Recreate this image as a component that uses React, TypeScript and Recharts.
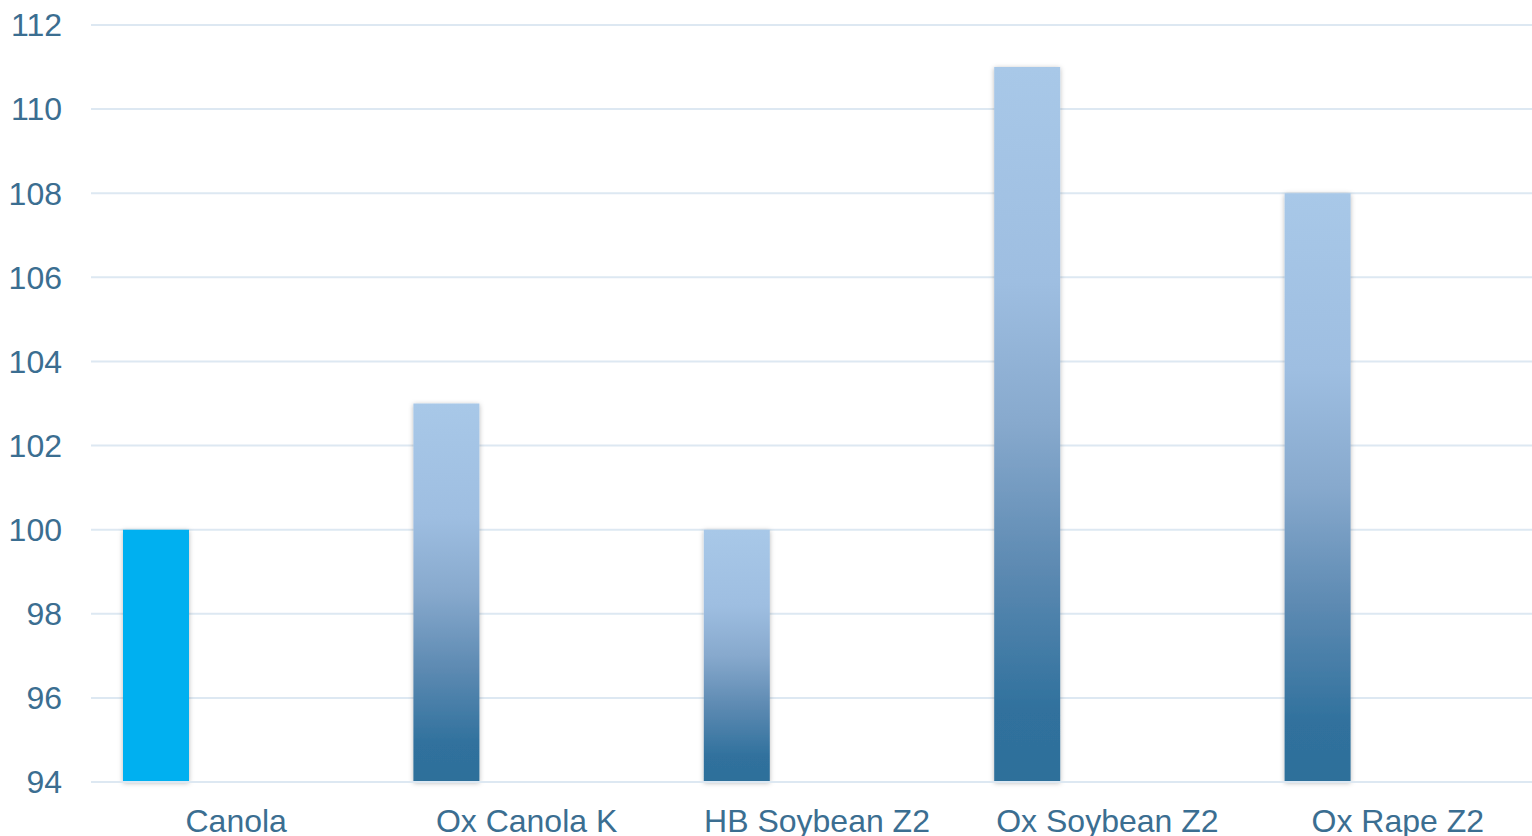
import React from "react";
import { BarChart, Bar, XAxis, YAxis, CartesianGrid, Cell } from "recharts";

const categories = ["Canola", "Ox Canola K", "HB Soybean Z2", "Ox Soybean Z2", "Ox Rape Z2"];
const values = [100, 103, 100, 111, 108];
const yTicks = [94, 96, 98, 100, 102, 104, 106, 108, 110, 112];

const data = categories.map((name, i) => ({ name, value: values[i], spacer: null }));

const textColor = "#3B6E91";
const font = "Liberation Sans, Arial, sans-serif";

export default function App() {
  return (
    <div style={{ position: "absolute", left: 0, top: 0, width: 1532, height: 836, overflow: "hidden", background: "#fff" }}>
      <BarChart
        width={1543}
        height={836}
        data={data}
        margin={{ top: 25, right: 0, bottom: 0, left: 0 }}
        barGap={95}
        barSize={66}
      >
        <defs>
          <linearGradient id="barFade" x1="0" y1="0" x2="0" y2="1">
            <stop offset="0" stopColor="#A8C8E8" />
            <stop offset="0.3" stopColor="#9EBEE1" />
            <stop offset="0.5" stopColor="#87A9CD" />
            <stop offset="0.7" stopColor="#5D8AB2" />
            <stop offset="0.9" stopColor="#30719D" />
            <stop offset="1" stopColor="#2E6F9A" />
          </linearGradient>
          <filter id="barShadow" x="-30%" y="-10%" width="160%" height="120%">
            <feDropShadow dx="0" dy="1" stdDeviation="2.5" floodColor="#000" floodOpacity="0.28" />
          </filter>
        </defs>
        <CartesianGrid vertical={false} stroke="#DDE8F2" strokeWidth={2} />
        <XAxis
          dataKey="name"
          axisLine={{ stroke: "#DDE8F2", strokeWidth: 2 }}
          tickLine={false}
          tickSize={0}
          tickMargin={27}
          height={54}
          interval={0}
          tick={{ fill: textColor, fontSize: 32, fontFamily: font }}
        />
        <YAxis
          domain={[94, 112]}
          ticks={yTicks}
          axisLine={false}
          tickLine={false}
          tickSize={0}
          tickMargin={29}
          width={91}
          interval={0}
          tick={{ fill: textColor, fontSize: 32, fontFamily: font }}
        />
        <Bar dataKey="value" isAnimationActive={false} filter="url(#barShadow)">
          {data.map((d, i) => (
            <Cell key={d.name} fill={i === 0 ? "#00B0F0" : "url(#barFade)"} />
          ))}
        </Bar>
        <Bar dataKey="spacer" isAnimationActive={false} fill="transparent" />
      </BarChart>
    </div>
  );
}
